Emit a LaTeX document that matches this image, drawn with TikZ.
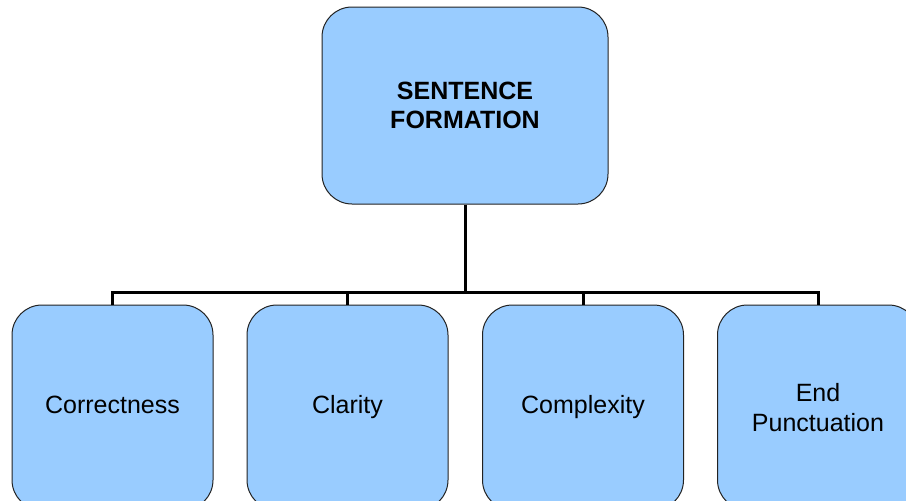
\documentclass[tikz,border=0pt]{standalone}
\usepackage{fontspec}
\setmainfont{Liberation Sans}
\definecolor{boxfill}{HTML}{99CCFF}
\definecolor{boxline}{HTML}{222222}
\tikzset{
  box/.style={draw=boxline, line width=1pt, fill=boxfill, rounded corners=30pt,
    inner sep=0pt, align=center, font=\fontsize{25}{29.5}\selectfont},
  topbox/.style={box, minimum width=286pt, minimum height=197pt},
  leafbox/.style={box, minimum width=201pt, minimum height=205pt},
  conn/.style={draw=black, line width=3pt}
}
\begin{document}
\begin{tikzpicture}[x=1pt,y=-1pt]
\useasboundingbox (0,0) rectangle (906,501);
\clip (0,0) rectangle (906,501);
\fill[white] (0,0) rectangle (906,501);
\coordinate (j) at (465,292.7);
\node[topbox] (top) at (465,105.5) {\bfseries SENTENCE\\\bfseries FORMATION};
\node[leafbox] (c1) at (112.5,407.5) {\strut Correctness};
\node[leafbox] (c2) at (347.5,407.5) {\strut Clarity};
\node[leafbox] (c3) at (583,407.5) {\strut Complexity};
\node[leafbox] (c4) at (818,407.5) {End\\Punctuation};
\draw[conn] (top.south) -- (j);
\draw[conn] (c1.north) |- (j) -| (c4.north);
\draw[conn] (c2.north) -- (c2.north |- j);
\draw[conn] (c3.north) -- (c3.north |- j);
\end{tikzpicture}
\end{document}
